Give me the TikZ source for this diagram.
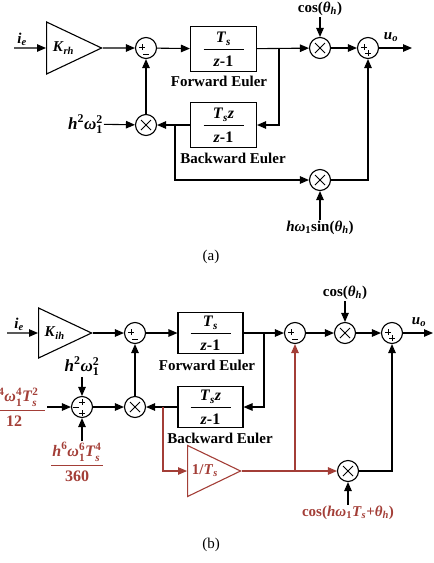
\documentclass[tikz,border=0pt]{standalone}
\usepackage{amsmath}
\usepackage{fontspec}
\setmainfont{Liberation Serif}
\usetikzlibrary{arrows.meta,shapes.geometric}
\definecolor{dkred}{RGB}{163,62,55}
\newcommand{\itb}[1]{\textbf{\textit{#1}}}
\newcommand{\blkfrac}[3][40pt]{$\genfrac{}{}{1.1pt}{0}{\makebox[#1]{#2}}{\makebox[#1]{#3}}$}
\begin{document}
\begin{tikzpicture}[x=1pt,y=-1pt]
                    \tikzset{
                        lbl/.style={font=\fontsize{15}{18}\selectfont\bfseries, inner sep=1pt},
                        blk/.style={draw, rectangle, line width=1.1pt, minimum width=66pt, minimum height=45pt, inner sep=0pt, font=\fontsize{16}{19}\selectfont\bfseries},
                        amp/.style={draw, isosceles triangle, isosceles triangle stretches, line width=1.1pt, minimum height=55pt, minimum width=52pt, inner sep=0pt, font=\fontsize{15}{18}\selectfont\bfseries},
                        mult/.style={draw, circle, line width=1.1pt, minimum size=21pt, inner sep=0pt,
                            path picture={\draw[line width=1pt] ([shift={(-5pt,-5pt)}]path picture bounding box.center) -- ++(10pt,10pt) ([shift={(-5pt,5pt)}]path picture bounding box.center) -- ++(10pt,-10pt);}},
                        sumpm/.style={draw, circle, line width=1.1pt, minimum size=21pt, inner sep=0pt,
                            path picture={\draw[line width=0.9pt] ([shift={(-4pt,1pt)}]path picture bounding box.center) +(-3pt,0) -- +(3pt,0) +(0,-3pt) -- +(0,3pt) ([shift={(0pt,-6pt)}]path picture bounding box.center) +(-3pt,0) -- +(3pt,0);}},
                        sumpp/.style={draw, circle, line width=1.1pt, minimum size=21pt, inner sep=0pt,
                            path picture={\draw[line width=0.9pt] ([shift={(-4pt,1pt)}]path picture bounding box.center) +(-3pt,0) -- +(3pt,0) +(0,-3pt) -- +(0,3pt) ([shift={(0pt,-5pt)}]path picture bounding box.center) +(-3pt,0) -- +(3pt,0) +(0,-3pt) -- +(0,3pt);}},
                        sumthree/.style={draw, circle, line width=1.1pt, minimum size=21pt, inner sep=0pt,
                            path picture={\draw[line width=0.9pt] ([shift={(0pt,5pt)}]path picture bounding box.center) +(-3pt,0) -- +(3pt,0) +(0,-3pt) -- +(0,3pt) ([shift={(-6pt,0pt)}]path picture bounding box.center) +(-3pt,0) -- +(3pt,0) ([shift={(0pt,-6pt)}]path picture bounding box.center) +(-3pt,0) -- +(3pt,0) +(0,-3pt) -- +(0,3pt);}},
                        arc/.style={-{Triangle[length=9pt,width=7.5pt]}, line width=1.1pt}
                    }
                    \useasboundingbox (0,0) rectangle (434,563);

                    \draw node[lbl] (iea) at (22,39) {\itb{i}$_{\itb{e}}$};
                    \coordinate (ina) at (14,48);
                    \draw node[amp, anchor=apex] (krh) at (103,48) {\itb{K}$_{\itb{rh}}$\hspace{8pt}};
                    \draw node[sumpm] (sa1) at (146,48) {};
                    \draw node[blk] (fwda) at (223.5,49) {\blkfrac{\itb{T}$_{\itb{s}}$}{\itb{z}-1}};
                    \draw node[lbl] (fwdalbl) at (219,81) {Forward Euler};
                    \coordinate (bra1) at (279,48);
                    \draw node[mult] (ma1) at (320,48) {};
                    \draw node[lbl] (cosa) at (320,9) {cos(\itb{θ}$_{\itb{h}}$)};
                    \draw node[sumpp] (sa2) at (368,48) {};
                    \coordinate (outa) at (412,48);
                    \draw node[lbl] (uoa) at (391,37) {\itb{u}$_{\itb{o}}$};
                    \draw node[blk] (bwda) at (223.5,125) {\blkfrac{\itb{T}$_{\itb{s}}$\itb{z}}{\itb{z}-1}};
                    \draw node[lbl] (bwdalbl) at (233,158) {Backward Euler};
                    \draw node[mult] (ma2) at (146,125) {};
                    \draw node[lbl, anchor=east, font=\fontsize{17}{20}\selectfont\bfseries] (hwa) at (104,124) {$\itb{h}^{\textbf{2}}\itb{ω}^{\textbf{2}}_{\textbf{1}}$};
                    \coordinate (bra2) at (175,125);
                    \draw node[mult] (ma3) at (320,180) {};
                    \draw node[lbl] (sina) at (320,228) {\itb{hω}$_{\textbf{1}}$sin(\itb{θ}$_{\itb{h}}$)};
                    \draw node[font=\fontsize{15}{18}\selectfont] (capa) at (211,257) {(a)};
                    \foreach \x/\y in {%
                        ina/krh, krh/sa1, sa1/fwda, fwda/ma1, ma1/sa2, sa2/outa, cosa/ma1, ma2/sa1, bwda/ma2, hwa/ma2, sina/ma3%
                    }{
                    \draw (\x) edge[arc] (\y);
                    }
                    \draw[arc] (bra1) |- (bwda);
                    \draw[arc] (bra2) |- (ma3);
                    \draw[arc] (ma3) -| (sa2);

                    \draw node[lbl] (ieb) at (19,324) {\itb{i}$_{\itb{e}}$};
                    \coordinate (inb) at (7,333);
                    \draw node[amp, anchor=apex, minimum height=53pt, minimum width=50pt] (kih) at (93,333) {\itb{K}$_{\itb{ih}}$\hspace{8pt}};
                    \draw node[sumpm] (sb1) at (135,333) {};
                    \draw node[blk, minimum width=65pt, minimum height=41pt] (fwdb) at (210.5,333) {\blkfrac{\itb{T}$_{\itb{s}}$}{\itb{z}-1}};
                    \draw node[lbl] (fwdblbl) at (207,365) {Forward Euler};
                    \coordinate (brb1) at (264,333);
                    \draw node[sumpm] (sb2) at (295,333) {};
                    \draw node[mult] (mb1) at (345,333) {};
                    \draw node[lbl] (cosb) at (345,293) {cos(\itb{θ}$_{\itb{h}}$)};
                    \draw node[sumpp] (sb3) at (392,333) {};
                    \coordinate (outb) at (433,333);
                    \draw node[lbl] (uob) at (419,322) {\itb{u}$_{\itb{o}}$};
                    \draw node[blk, minimum width=65pt, minimum height=41pt] (bwdb) at (210.5,407) {\blkfrac{\itb{T}$_{\itb{s}}$\itb{z}}{\itb{z}-1}};
                    \draw node[lbl] (bwdblbl) at (220,438) {Backward Euler};
                    \draw node[mult] (mb2) at (135,407) {};
                    \coordinate (brb2) at (163,407);
                    \draw node[sumthree] (sb4) at (82,407) {};
                    \draw node[lbl, font=\fontsize{17}{20}\selectfont\bfseries] (hwb) at (82,366) {$\itb{h}^{\textbf{2}}\itb{ω}^{\textbf{2}}_{\textbf{1}}$};
                    \draw node[lbl, text=dkred, font=\fontsize{16}{19}\selectfont\bfseries] (hfour) at (14,407) {\blkfrac[62pt]{$\itb{h}^{\textbf{4}}\itb{ω}^{\textbf{4}}_{\textbf{1}}\itb{T}^{\textbf{2}}_{\itb{s}}$}{12}};
                    \draw node[lbl, text=dkred, font=\fontsize{16}{19}\selectfont\bfseries] (hsix) at (77,462) {\blkfrac[52pt]{$\itb{h}^{\textbf{6}}\itb{ω}^{\textbf{6}}_{\textbf{1}}\itb{T}^{\textbf{4}}_{\itb{s}}$}{360}};
                    \draw node[amp, draw=dkred, text=dkred, anchor=apex, minimum height=53pt, minimum width=51pt] (invts) at (242,471) {1/\itb{T}$_{\itb{s}}$\hspace{6pt}};
                    \coordinate (brb3) at (sb2 |- invts);
                    \draw node[mult] (mb3) at (348,471) {};
                    \draw node[lbl, text=dkred] (cosc) at (348,513) {cos(\itb{hω}$_{\textbf{1}}$\itb{T}$_{\itb{s}}$+\itb{θ}$_{\itb{h}}$)};
                    \draw node[font=\fontsize{15}{18}\selectfont] (capb) at (211,545) {(b)};
                    \foreach \x/\y in {%
                        inb/kih, kih/sb1, sb1/fwdb, fwdb/sb2, sb2/mb1, mb1/sb3, sb3/outb, cosb/mb1, mb2/sb1, bwdb/mb2, sb4/mb2, hwb/sb4, hfour/sb4%
                    }{
                    \draw (\x) edge[arc] (\y);
                    }
                    \draw[arc] (hsix.north -| sb4) -- (sb4);
                    \draw[arc] (cosc) -- (mb3);
                    \draw[arc] (brb1) |- (bwdb);
                    \draw[arc] (mb3) -| (sb3);
                    \draw[arc, dkred] (brb2) |- (invts.west);
                    \draw[arc, dkred] (invts.apex) -- (mb3);
                    \draw[arc, dkred] (brb3) -- (sb2);
                \end{tikzpicture}
\end{document}
